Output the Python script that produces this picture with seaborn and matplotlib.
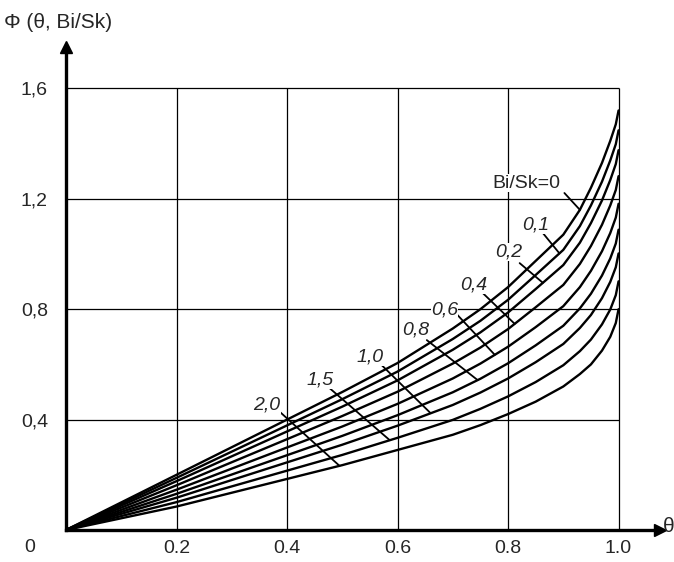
import numpy as np
import pandas as pd
import matplotlib
matplotlib.use("Agg")
import matplotlib.pyplot as plt
import seaborn as sns

theta = [0, 0.2, 0.4, 0.5, 0.6, 0.7, 0.75, 0.8, 0.85, 0.9, 0.93, 0.95, 0.97, 0.985, 0.995, 1.0]

# Phi(theta, Bi/Sk) per curve, top to bottom
phi_00 = [0, 0.200, 0.400, 0.500, 0.605, 0.730, 0.800, 0.880, 0.975, 1.070, 1.160, 1.240, 1.330, 1.410, 1.470, 1.520]
phi_01 = [0, 0.189, 0.379, 0.474, 0.574, 0.692, 0.758, 0.834, 0.924, 1.015, 1.101, 1.176, 1.262, 1.339, 1.398, 1.448]
phi_02 = [0, 0.177, 0.357, 0.447, 0.542, 0.653, 0.716, 0.788, 0.873, 0.960, 1.041, 1.112, 1.194, 1.268, 1.326, 1.376]
phi_04 = [0, 0.162, 0.329, 0.413, 0.501, 0.603, 0.661, 0.728, 0.807, 0.888, 0.964, 1.029, 1.106, 1.176, 1.232, 1.282]
phi_06 = [0, 0.146, 0.299, 0.375, 0.457, 0.549, 0.603, 0.664, 0.735, 0.811, 0.880, 0.939, 1.010, 1.076, 1.132, 1.182]
phi_08 = [0, 0.131, 0.271, 0.341, 0.416, 0.499, 0.548, 0.604, 0.669, 0.740, 0.803, 0.856, 0.922, 0.984, 1.038, 1.088]
phi_10 = [0, 0.117, 0.245, 0.309, 0.378, 0.453, 0.498, 0.549, 0.608, 0.674, 0.732, 0.779, 0.840, 0.899, 0.952, 1.002]
phi_15 = [0, 0.101, 0.215, 0.272, 0.334, 0.399, 0.439, 0.484, 0.536, 0.597, 0.648, 0.690, 0.745, 0.799, 0.851, 0.901]
phi_20 = [0, 0.085, 0.185, 0.235, 0.290, 0.345, 0.380, 0.420, 0.465, 0.520, 0.565, 0.600, 0.650, 0.700, 0.750, 0.800]

bisk = ["0", "0,1", "0,2", "0,4", "0,6", "0,8", "1,0", "1,5", "2,0"]
curves = [phi_00, phi_01, phi_02, phi_04, phi_06, phi_08, phi_10, phi_15, phi_20]

x_ticks = [0.2, 0.4, 0.6, 0.8, 1.0]
x_labels = ["0.2", "0.4", "0.6", "0.8", "1.0"]
y_ticks = [0.4, 0.8, 1.2, 1.6]
y_labels = ["0,4", "0,8", "1,2", "1,6"]

# long table for seaborn
rows = []
for name, vals in zip(bisk, curves):
    for t, p in zip(theta, vals):
        rows.append({"theta": t, "phi": p, "BiSk": name})
df = pd.DataFrame(rows)

sns.set_style("white")
plt.rcParams["font.family"] = ["Liberation Sans", "DejaVu Sans"]

fig = plt.figure(figsize=(6.74, 5.62), dpi=100)
ax = fig.add_axes([66 / 674, 32 / 562, (660 - 66) / 674, (530 - 47) / 562])
ax.set_xlim(0, 1.075)
ax.set_ylim(0, 1.75)

# grid box
ax.vlines(x_ticks, 0, 1.6, color="black", lw=0.9, zorder=1)
ax.hlines(y_ticks, 0, 1.0, color="black", lw=0.9, zorder=1)

sns.lineplot(data=df, x="theta", y="phi", hue="BiSk", palette=["black"] * len(bisk),
             estimator=None, sort=False, legend=False, lw=1.7, ax=ax, zorder=3)

# axes with arrows
for s in ["top", "right"]:
    ax.spines[s].set_visible(False)
for s in ["left", "bottom"]:
    ax.spines[s].set_linewidth(2.4)
    ax.spines[s].set_color("black")
ax.plot(1, 0, ">", color="black", ms=9, transform=ax.transAxes, clip_on=False)
ax.plot(0, 1, "^", color="black", ms=9, transform=ax.transAxes, clip_on=False)

ax.set_xticks(x_ticks)
ax.set_xticklabels(x_labels, fontsize=14)
ax.set_yticks(y_ticks)
ax.set_yticklabels(y_labels, fontsize=14)
ax.tick_params(axis="x", length=0, pad=7)
ax.tick_params(axis="y", length=0, pad=13)
ax.set_xlabel("")
ax.set_ylabel("")

fig.text(30 / 674, 1 - 548 / 562, "0", fontsize=14, ha="center", va="center")
fig.text(669 / 674, 1 - 527 / 562, "θ", fontsize=15, ha="center", va="center")
fig.text(4 / 674, 1 - 22 / 562, "Φ (θ, Bi/Sk)", fontsize=15, ha="left", va="center")

# curve labels with leader lines: (text x, text y, leader start x, y, theta at curve end)
labels = [
    ("Bi/Sk=0", 0.834, 1.257, 0.902, 1.221, 0.930, "normal"),
    ("0,1", 0.850, 1.105, 0.863, 1.076, 0.893, "italic"),
    ("0,2", 0.801, 1.007, 0.821, 0.967, 0.863, "italic"),
    ("0,4", 0.738, 0.888, 0.754, 0.859, 0.812, "italic"),
    ("0,6", 0.685, 0.797, 0.708, 0.780, 0.776, "italic"),
    ("0,8", 0.633, 0.725, 0.653, 0.688, 0.745, "italic"),
    ("1,0", 0.550, 0.627, 0.571, 0.598, 0.660, "italic"),
    ("1,5", 0.459, 0.543, 0.477, 0.514, 0.586, "italic"),
    ("2,0", 0.363, 0.453, 0.387, 0.428, 0.495, "italic"),
]
for (txt, tx, ty, sx, sy, te, st), vals in zip(labels, curves):
    ey = np.interp(te, theta, vals)
    ax.plot([sx, te], [sy, ey], color="black", lw=1.3, zorder=4)
    ax.text(tx, ty, txt, fontsize=14, style=st, ha="center", va="center", zorder=5,
            bbox=dict(facecolor="white", edgecolor="none", pad=0.3))

fig.savefig("out.png", dpi=100)
